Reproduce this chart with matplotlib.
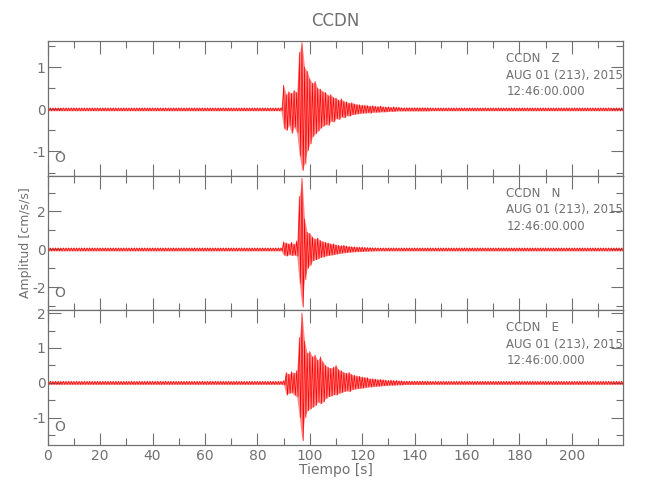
import numpy as np
import matplotlib
matplotlib.use('Agg')
import matplotlib.pyplot as plt
from matplotlib.ticker import MultipleLocator

# header info
STATION = 'CCDN'
COMPONENTS = ['Z', 'N', 'E']
DATE_LINE = 'AUG 01 (213), 2015'
TIME_LINE = '12:46:00.000'
T_END = 219.5

# envelope of each trace, one value per second
env_t = list(range(89, 146))

z_hi = [0.04, 0.57, 0.35, 0.42, 0.38, 0.45, 0.40, 1.35, 1.58, 1.00,
        0.90, 0.72, 0.62, 0.66, 0.50, 0.48, 0.42, 0.40, 0.33, 0.35,
        0.28, 0.27, 0.22, 0.25, 0.19, 0.18, 0.15, 0.16, 0.13, 0.12,
        0.11, 0.10, 0.10, 0.09, 0.08, 0.09, 0.07, 0.07, 0.08, 0.06,
        0.06, 0.06, 0.05, 0.06, 0.05, 0.05, 0.04, 0.04, 0.04, 0.04,
        0.04, 0.04, 0.04, 0.04, 0.04, 0.04, 0.04]
z_lo = [-0.04, -0.45, -0.50, -0.38, -0.57, -0.42, -0.55, -1.10, -1.45, -1.30,
        -0.98, -0.82, -0.65, -0.58, -0.52, -0.45, -0.40, -0.36, -0.38, -0.28,
        -0.30, -0.22, -0.24, -0.18, -0.20, -0.15, -0.16, -0.13, -0.12, -0.11,
        -0.10, -0.09, -0.09, -0.08, -0.09, -0.07, -0.07, -0.07, -0.06, -0.06,
        -0.06, -0.05, -0.05, -0.05, -0.04, -0.04, -0.04, -0.04, -0.04, -0.04,
        -0.04, -0.04, -0.04, -0.04, -0.04, -0.04, -0.04]

n_hi = [0.08, 0.40, 0.35, 0.30, 0.38, 0.28, 0.45, 2.80, 3.75, 1.60,
        0.90, 0.85, 0.65, 0.55, 0.60, 0.47, 0.42, 0.38, 0.35, 0.30,
        0.30, 0.25, 0.22, 0.20, 0.22, 0.18, 0.16, 0.15, 0.14, 0.13,
        0.12, 0.12, 0.11, 0.10, 0.10, 0.09, 0.09, 0.08, 0.08, 0.08,
        0.08, 0.08, 0.08, 0.08, 0.08, 0.08, 0.08, 0.08, 0.08, 0.08,
        0.08, 0.08, 0.08, 0.08, 0.08, 0.08, 0.08]
n_lo = [-0.08, -0.30, -0.35, -0.28, -0.32, -0.30, -0.35, -1.80, -3.05, -1.60,
        -1.00, -0.84, -0.60, -0.55, -0.50, -0.42, -0.40, -0.35, -0.32, -0.30,
        -0.28, -0.25, -0.22, -0.20, -0.18, -0.17, -0.15, -0.14, -0.13, -0.12,
        -0.12, -0.11, -0.10, -0.10, -0.09, -0.09, -0.08, -0.08, -0.08, -0.08,
        -0.08, -0.08, -0.08, -0.08, -0.08, -0.08, -0.08, -0.08, -0.08, -0.08,
        -0.08, -0.08, -0.08, -0.08, -0.08, -0.08, -0.08]

e_hi = [0.045, 0.06, 0.30, 0.25, 0.32, 0.28, 0.35, 1.30, 2.00, 1.20,
        0.85, 0.90, 0.75, 0.80, 0.65, 0.75, 0.60, 0.50, 0.45, 0.42,
        0.45, 0.50, 0.38, 0.35, 0.30, 0.28, 0.30, 0.24, 0.22, 0.20,
        0.19, 0.17, 0.16, 0.15, 0.12, 0.12, 0.11, 0.10, 0.10, 0.09,
        0.08, 0.07, 0.08, 0.07, 0.07, 0.06, 0.06, 0.05, 0.05, 0.05,
        0.05, 0.05, 0.05, 0.05, 0.05, 0.05, 0.05]
e_lo = [-0.045, -0.06, -0.35, -0.30, -0.28, -0.35, -0.40, -1.00, -1.66, -1.00,
        -0.80, -0.75, -0.70, -0.65, -0.55, -0.60, -0.55, -0.45, -0.40, -0.38,
        -0.34, -0.35, -0.30, -0.28, -0.25, -0.23, -0.25, -0.20, -0.18, -0.17,
        -0.16, -0.15, -0.14, -0.12, -0.12, -0.11, -0.10, -0.10, -0.09, -0.08,
        -0.08, -0.07, -0.07, -0.07, -0.06, -0.06, -0.06, -0.05, -0.05, -0.05,
        -0.05, -0.05, -0.05, -0.05, -0.05, -0.05, -0.05]

# background noise half-width before/after the event
noise_z = 0.035
noise_n = 0.08
noise_e = 0.045

GRAY = '#707070'
RED = '#ff0000'


def build_envelope(hi, lo, noise):
    t_pre = np.arange(0, env_t[0], 1.0)
    t_post = np.arange(env_t[-1] + 1, T_END + 1, 1.0)
    t_all = np.concatenate([t_pre, env_t, t_post])
    hi_all = np.concatenate([np.full(len(t_pre), noise), hi, np.full(len(t_post), noise)])
    lo_all = np.concatenate([np.full(len(t_pre), -noise), lo, np.full(len(t_post), -noise)])
    return t_all, hi_all, lo_all


def zigzag(t_all, hi_all, lo_all):
    """line swinging between the upper and lower envelope, half a second apart"""
    x = np.empty(2 * len(t_all))
    y = np.empty(2 * len(t_all))
    x[0::2] = t_all
    x[1::2] = t_all + 0.5
    y[0::2] = hi_all
    y[1::2] = lo_all
    return x, y


panels = [
    ('Z', z_hi, z_lo, noise_z, (-1.57, 1.62), 1.0, 0.5),
    ('N', n_hi, n_lo, noise_n, (-3.2, 3.9), 2.0, 1.0),
    ('E', e_hi, e_lo, noise_e, (-1.77, 2.09), 1.0, 0.5),
]

plt.rcParams['font.family'] = 'DejaVu Sans'
plt.rcParams['axes.unicode_minus'] = False
fig = plt.figure(figsize=(6.5, 5), dpi=100)

left, right = 0.0734, 0.9585
top, bottom = 0.918, 0.111
h = (top - bottom) / 3

for i, (comp, hi, lo, noise, ylim, major, minor) in enumerate(panels):
    ax = fig.add_axes([left, top - (i + 1) * h, right - left, h])
    t_all, hi_all, lo_all = build_envelope(hi, lo, noise)
    ax.fill_between(t_all, lo_all, hi_all, color=RED, alpha=0.45, lw=0)
    x, y = zigzag(t_all, hi_all, lo_all)
    ax.plot(x, y, color=RED, lw=0.5)

    ax.set_xlim(0, T_END)
    ax.set_ylim(*ylim)
    ax.xaxis.set_major_locator(MultipleLocator(20))
    ax.xaxis.set_minor_locator(MultipleLocator(10))
    ax.yaxis.set_major_locator(MultipleLocator(major))
    ax.yaxis.set_minor_locator(MultipleLocator(minor))
    ax.tick_params(which='both', direction='in', top=True, right=True,
                   colors=GRAY, labelcolor=GRAY, labelsize=10, width=0.8)
    ax.tick_params(which='major', length=9)
    ax.tick_params(which='minor', length=5)
    ax.tick_params(axis='y', pad=1.5)
    for sp in ax.spines.values():
        sp.set_color(GRAY)
        sp.set_linewidth(0.9)
    if i < 2:
        ax.tick_params(labelbottom=False)

    ax.text(0.797, 0.915, f'{STATION}   {comp}\n{DATE_LINE}\n{TIME_LINE}',
            transform=ax.transAxes, ha='left', va='top', fontsize=8.5,
            color=GRAY, linespacing=1.35)
    ax.text(0.012, 0.13, 'O', transform=ax.transAxes, ha='left', va='center',
            fontsize=10, color=GRAY)

fig.text((left + right) / 2, 0.958, STATION, ha='center', va='center',
         fontsize=12, color=GRAY)
fig.text(0.039, 0.514, 'Amplitud [cm/s/s]', rotation=90, ha='center',
         va='center', fontsize=9, color=GRAY)
fig.text(0.517, 0.06, 'Tiempo [s]', ha='center', va='center',
         fontsize=10, color=GRAY)

fig.savefig('out.png', dpi=100, facecolor='white')
